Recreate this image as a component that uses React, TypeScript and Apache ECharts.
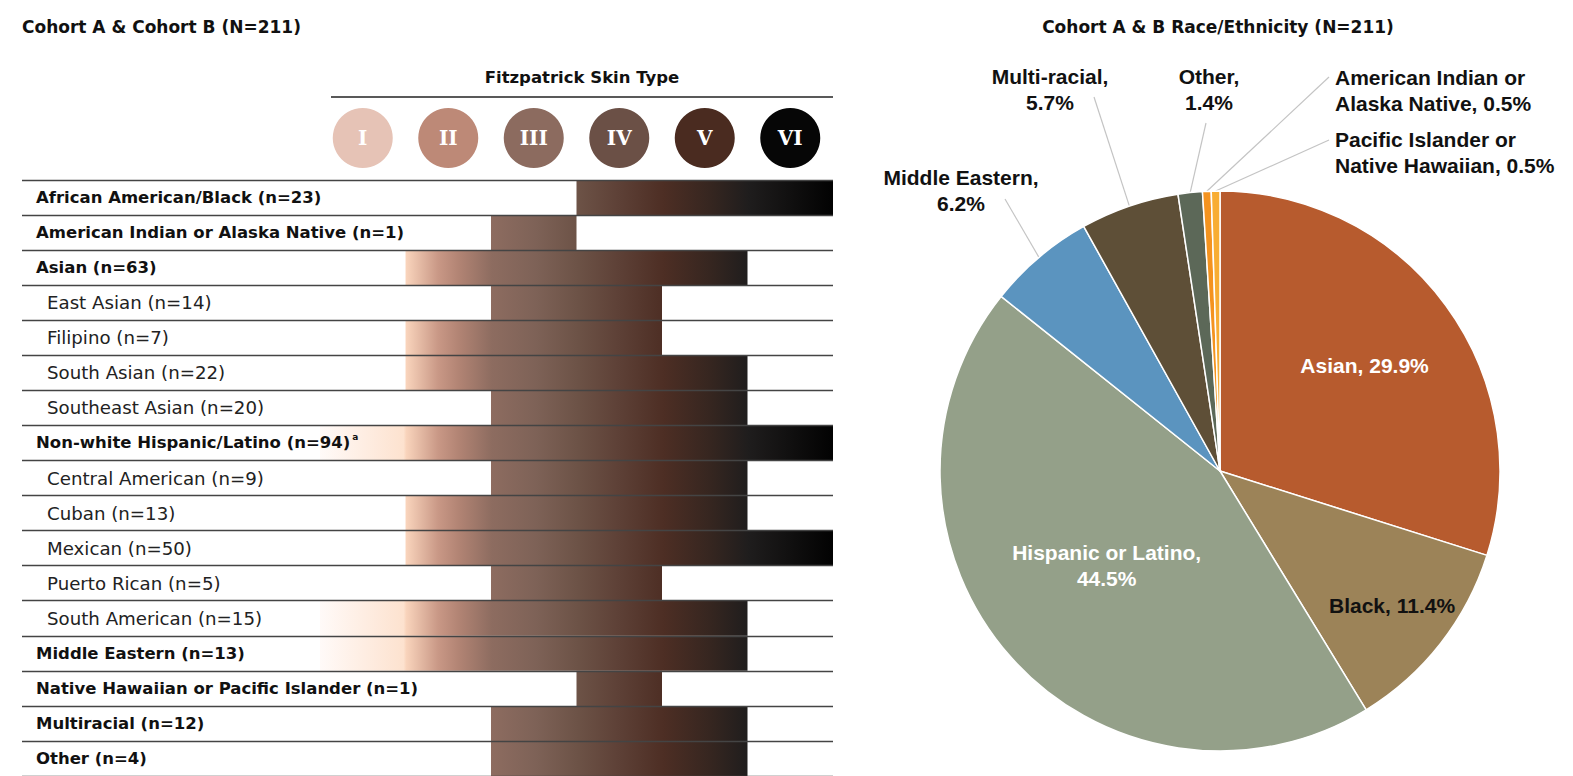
import React, { useEffect, useRef } from "react";
import * as echarts from "echarts";

// ---------- DATA ----------
const rowNames = [
  "African American/Black",
  "American Indian or Alaska Native",
  "Asian",
  "East Asian",
  "Filipino",
  "South Asian",
  "Southeast Asian",
  "Non-white Hispanic/Latino",
  "Central American",
  "Cuban",
  "Mexican",
  "Puerto Rican",
  "South American",
  "Middle Eastern",
  "Native Hawaiian or Pacific Islander",
  "Multiracial",
  "Other",
];
const rowCounts = [23, 1, 63, 14, 7, 22, 20, 94, 9, 13, 50, 5, 15, 13, 1, 12, 4];
const rowIsSub = [0, 0, 0, 1, 1, 1, 1, 0, 1, 1, 1, 1, 1, 0, 0, 0, 0];
const rowFootnote = ["", "", "", "", "", "", "", "a", "", "", "", "", "", "", "", "", ""];
// Fitzpatrick type range (1 = I ... 6 = VI)
const rowFirstType = [4, 3, 2, 3, 2, 2, 3, 1, 3, 2, 2, 3, 1, 1, 4, 3, 3];
const rowLastType = [6, 3, 5, 4, 4, 5, 5, 6, 5, 5, 6, 4, 5, 5, 4, 5, 5];

const skinTypes = ["I", "II", "III", "IV", "V", "VI"];
const skinColors = ["#e6c3b6", "#bd8977", "#8c6b5f", "#6b5046", "#4a2b20", "#060606"];

const pieNames = [
  "Asian",
  "Black",
  "Hispanic or Latino",
  "Middle Eastern",
  "Multi-racial",
  "Other",
  "American Indian or\nAlaska Native",
  "Pacific Islander or\nNative Hawaiian",
];
const piePercents = [29.9, 11.4, 44.5, 6.2, 5.7, 1.4, 0.5, 0.5];
const pieBreakAfterName = [false, false, true, true, true, true, false, false];
const pieColors = ["#b75b2e", "#9c8358", "#94a089", "#5b94bf", "#5e4f37", "#5c6858", "#f4931f", "#f8ad33"];

// ---------- LAYOUT ----------
const TABLE_LEFT = 22;
const COL0 = 320;
const COL_END = 833;
const ROW_TOP = 180;
const ROW_BOTTOM = 776;
const colW = (COL_END - COL0) / 6;
const xMin = -(COL0 - TABLE_LEFT) / colW;

const PIE_CX = 1220;
const PIE_CY = 471;
const PIE_R = 280;

const LEFT_FONT = '"DejaVu Sans", "Noto Sans", sans-serif';
const PIE_FONT = '"Liberation Sans", Arial, Helvetica, sans-serif';

const insideLabelRadius: Record<number, number> = { 0: 0.64, 1: 0.78, 2: 0.54 };
const outsideLabelSpots: Record<number, { x: number; y: number; align: string; end: number[] }> = {
  3: { x: 961, y: 190, align: "center", end: [1005, 199] },
  4: { x: 1050, y: 89, align: "center", end: [1094, 97] },
  5: { x: 1209, y: 89, align: "center", end: [1206, 123] },
  6: { x: 1335, y: 90, align: "left", end: [1329, 77] },
  7: { x: 1335, y: 152, align: "left", end: [1329, 140] },
};

export default function App() {
  const ref = useRef<HTMLDivElement>(null);

  useEffect(() => {
    if (!ref.current) return;
    const chart = echarts.init(ref.current, undefined, { renderer: "svg" });

    const barGradient = new echarts.graphic.LinearGradient(
      COL0,
      0,
      COL_END,
      0,
      [
        { offset: 0, color: "#fffaf8" },
        { offset: 0.163, color: "#fde2cf" },
        { offset: 0.168, color: "#f9d4bc" },
        { offset: 0.23, color: "#c99886" },
        { offset: 0.27, color: "#b28474" },
        { offset: 0.335, color: "#8d6c60" },
        { offset: 0.42, color: "#7e6257" },
        { offset: 0.5, color: "#6d5347" },
        { offset: 0.58, color: "#5e4137" },
        { offset: 0.67, color: "#4d2e24" },
        { offset: 0.76, color: "#362620" },
        { offset: 0.835, color: "#1f1d1d" },
        { offset: 1, color: "#020202" },
      ],
      true
    );

    const pieTotal = piePercents.reduce((a, b) => a + b, 0);
    const midAngle = (i: number) => {
      let acc = 0;
      for (let k = 0; k < i; k++) acc += piePercents[k];
      return ((acc + piePercents[i] / 2) / pieTotal) * Math.PI * 2;
    };
    const pt = (a: number, r: number) => [PIE_CX + r * Math.sin(a), PIE_CY - r * Math.cos(a)];

    const option: any = {
      animation: false,
      backgroundColor: "#fff",
      graphic: [
        {
          type: "text",
          x: TABLE_LEFT,
          y: 27,
          style: {
            text: "Cohort A & Cohort B (N=211)",
            fontFamily: LEFT_FONT,
            fontWeight: "bold",
            fontSize: 17,
            fill: "#111",
            align: "left",
            verticalAlign: "middle",
          },
        },
        {
          type: "text",
          x: 1218,
          y: 27,
          style: {
            text: "Cohort A & B Race/Ethnicity (N=211)",
            fontFamily: LEFT_FONT,
            fontWeight: "bold",
            fontSize: 17,
            fill: "#111",
            align: "center",
            verticalAlign: "middle",
          },
        },
        {
          type: "text",
          x: 582,
          y: 77,
          style: {
            text: "Fitzpatrick Skin Type",
            fontFamily: LEFT_FONT,
            fontWeight: "bold",
            fontSize: 16.5,
            fill: "#111",
            align: "center",
            verticalAlign: "middle",
          },
        },
        {
          type: "line",
          shape: { x1: 331, y1: 97, x2: COL_END, y2: 97 },
          style: { stroke: "#222", lineWidth: 1.5 },
        },
      ],
      grid: [
        {
          left: TABLE_LEFT,
          width: COL_END - TABLE_LEFT,
          top: ROW_TOP,
          height: ROW_BOTTOM - ROW_TOP,
          containLabel: false,
          outerBoundsMode: "none",
        },
        {
          left: TABLE_LEFT,
          width: COL_END - TABLE_LEFT,
          top: 108,
          height: 60,
          containLabel: false,
          outerBoundsMode: "none",
        },
      ],
      xAxis: [
        { type: "value", gridIndex: 0, min: xMin, max: 6, show: false },
        { type: "value", gridIndex: 1, min: xMin, max: 6, show: false },
      ],
      yAxis: [
        {
          type: "category",
          gridIndex: 0,
          data: rowNames,
          inverse: true,
          z: 5,
          axisLine: { show: false },
          axisTick: { show: false },
          splitLine: { show: true, lineStyle: { color: "#444", width: 1.4 } },
          axisLabel: {
            inside: true,
            margin: 14,
            interval: 0,
            align: "left",
            formatter: (value: string, index: number) => {
              const st = rowIsSub[index] ? "s" : "m";
              const foot = rowFootnote[index] ? `{sup|${rowFootnote[index]}}` : "";
              return `{${st}|${value} (n=${rowCounts[index]})}${foot}`;
            },
            rich: {
              m: {
                fontFamily: LEFT_FONT,
                fontWeight: "bold",
                fontSize: 16.5,
                color: "#111",
                lineHeight: 20,
              },
              s: {
                fontFamily: LEFT_FONT,
                fontSize: 18.2,
                color: "#222",
                lineHeight: 20,
                padding: [0, 0, 0, 11],
              },
              sup: {
                fontFamily: LEFT_FONT,
                fontWeight: "bold",
                fontSize: 9,
                color: "#111",
                lineHeight: 20,
                verticalAlign: "top",
                padding: [0, 0, 0, 2],
              },
            },
          },
        },
        { type: "value", gridIndex: 1, min: 0, max: 1, show: false },
      ],
      series: [
        {
          type: "bar",
          xAxisIndex: 0,
          yAxisIndex: 0,
          stack: "range",
          silent: true,
          barWidth: "100%",
          barCategoryGap: "0%",
          itemStyle: { color: "rgba(0,0,0,0)" },
          data: rowFirstType.map((f) => f - 1),
        },
        {
          type: "bar",
          xAxisIndex: 0,
          yAxisIndex: 0,
          stack: "range",
          silent: true,
          barWidth: "100%",
          barCategoryGap: "0%",
          itemStyle: { color: barGradient },
          data: rowLastType.map((l, i) => l - rowFirstType[i] + 1),
        },
        {
          type: "scatter",
          xAxisIndex: 1,
          yAxisIndex: 1,
          silent: true,
          symbol: "circle",
          symbolSize: 60,
          data: skinTypes.map((t, i) => ({
            value: [i + 0.5, 0.5],
            itemStyle: { color: skinColors[i], opacity: 1 },
          })),
          itemStyle: { opacity: 1 },
          label: {
            show: true,
            position: "inside",
            formatter: (p: any) => skinTypes[p.dataIndex],
            color: "#fff",
            fontFamily: '"DejaVu Serif", serif',
            fontWeight: "bold",
            fontSize: 20,
          },
        },
        {
          type: "pie",
          center: [PIE_CX, PIE_CY],
          radius: PIE_R,
          startAngle: 90,
          clockwise: true,
          avoidLabelOverlap: false,
          silent: true,
          itemStyle: { borderColor: "#fff", borderWidth: 1.5 },
          label: {
            show: true,
            position: "outside",
            formatter: (p: any) =>
              `${p.name},${pieBreakAfterName[p.dataIndex] ? "\n" : " "}${p.value}%`,
            fontFamily: PIE_FONT,
            fontWeight: "bold",
            fontSize: 21,
            lineHeight: 26,
            color: "#111",
          },
          labelLine: {
            show: true,
            length: 20,
            length2: 20,
            lineStyle: { color: "#c4c4c4", width: 1.2 },
          },
          labelLayout: (p: any) => {
            const i = p.dataIndex;
            const a = midAngle(i);
            if (insideLabelRadius[i] !== undefined) {
              const [x, y] = pt(a, PIE_R * insideLabelRadius[i]);
              return { x, y: i === 2 ? y - 6 : y, align: "center", verticalAlign: "middle" };
            }
            const s = outsideLabelSpots[i];
            const start = pt(a, PIE_R);
            return {
              x: s.x,
              y: s.y,
              align: s.align,
              verticalAlign: "middle",
              labelLinePoints: [start, s.end, s.end],
            };
          },
          data: pieNames.map((n, i) => ({
            name: n,
            value: piePercents[i],
            itemStyle: { color: pieColors[i] },
            label: i === 0 || i === 2 ? { color: "#fff" } : { color: "#111" },
            labelLine: i < 3 ? { show: false } : { show: true },
          })),
        },
      ],
    };

    chart.setOption(option);
    return () => chart.dispose();
  }, []);

  return (
    <div
      ref={ref}
      style={{ position: "fixed", left: 0, top: 0, width: 1573, height: 776, background: "#fff" }}
    />
  );
}
